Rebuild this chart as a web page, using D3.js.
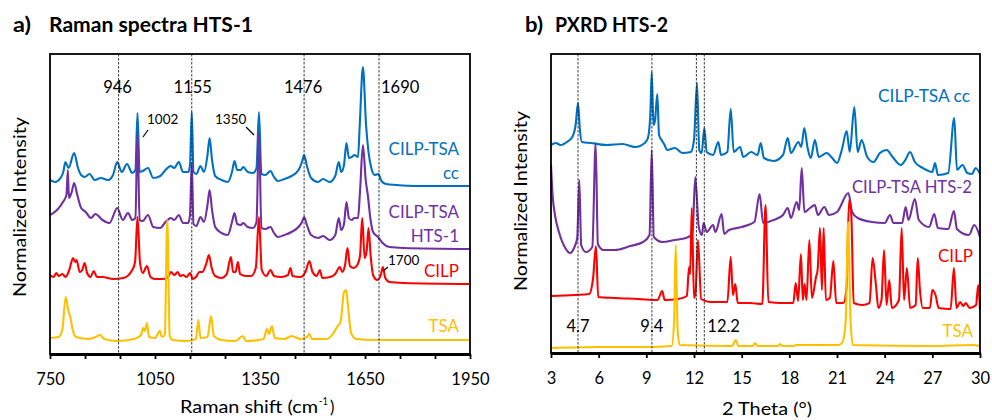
<!DOCTYPE html>
<html><head><meta charset="utf-8">
<script src="https://cdn.jsdelivr.net/npm/d3@7"></script>
<style>body{margin:0;background:#fff}svg text{font-family:Lato,"Open Sans",sans-serif}</style>
</head><body><svg id="c" width="992" height="420"></svg>
<script>
// ---------- DATA ----------
// Raman (x: cm-1, y: normalized intensity, arbitrary units)
const ramanCC = [[750,173],[765,171],[780,175],[788,181],[794,191],[803,185],[819,200],[830,185],[839,178],[849,176],[863,179],[878,173],[895,175],[916,173],[930,178],[942,191],[955,181],[970,189],[985,180],[994,183],[1000,240],[1006,181],[1015,182],[1030,185],[1045,175],[1065,177],[1080,183],[1095,187],[1105,185],[1118,191],[1130,181],[1145,181],[1150,188],[1155,241],[1160,181],[1168,179],[1180,187],[1190,181],[1200,198],[1206,215],[1213,193],[1222,177],[1240,173],[1258,171],[1270,181],[1277,192],[1285,183],[1295,183],[1302,186],[1315,181],[1330,180],[1340,185],[1347,241],[1354,179],[1365,178],[1380,182],[1390,176],[1401,172],[1420,174],[1440,177],[1460,183],[1470,191],[1476,198],[1484,187],[1496,175],[1516,171],[1530,174],[1549,171],[1565,177],[1575,191],[1582,181],[1590,188],[1597,210],[1604,195],[1612,196],[1620,198],[1630,196],[1635,228],[1644,286],[1653,228],[1660,201],[1668,185],[1678,178],[1688,179],[1697,172],[1710,169],[1740,168],[1800,167],[1950,167]];
const ramanHTS1 = [[750,138],[770,143],[787,151],[797,158],[801,183],[804,155],[812,161],[819,170],[828,158],[839,145],[852,141],[867,135],[880,139],[900,133],[920,130],[942,145],[958,133],[973,140],[985,133],[994,135],[1000,221],[1006,133],[1015,132],[1030,138],[1045,126],[1065,125],[1080,131],[1095,135],[1105,133],[1118,138],[1130,130],[1145,130],[1150,138],[1155,190],[1160,129],[1168,127],[1180,136],[1190,131],[1200,148],[1206,163],[1213,143],[1222,126],[1240,120],[1258,118],[1270,131],[1277,140],[1285,129],[1295,128],[1302,130],[1315,126],[1330,125],[1340,131],[1347,221],[1354,125],[1365,124],[1380,126],[1390,120],[1401,116],[1420,118],[1440,121],[1460,126],[1470,131],[1476,136],[1484,128],[1496,118],[1516,115],[1530,117],[1549,113],[1565,118],[1575,135],[1582,123],[1590,129],[1597,151],[1604,135],[1612,133],[1620,135],[1630,135],[1636,163],[1644,208],[1652,173],[1658,158],[1666,133],[1673,121],[1687,116],[1700,110],[1720,106],[1760,105],[1950,104]];
const ramanCILP = [[750,78],[760,76],[768,80],[775,77],[785,79],[795,76],[805,83],[816,95],[822,91],[826,93],[835,81],[842,83],[849,90],[856,80],[866,76],[875,82],[884,76],[900,76],[930,74],[960,75],[985,83],[993,91],[1000,136],[1007,91],[1015,80],[1027,87],[1037,76],[1050,74],[1070,74],[1085,75],[1096,81],[1105,78],[1115,81],[1122,77],[1130,78],[1140,76],[1150,80],[1158,74],[1167,76],[1177,81],[1185,81],[1197,90],[1204,98],[1212,85],[1222,77],[1240,75],[1255,79],[1262,90],[1267,96],[1273,81],[1280,81],[1287,91],[1293,79],[1310,77],[1325,77],[1338,85],[1347,136],[1355,83],[1368,77],[1380,83],[1390,77],[1410,76],[1430,78],[1437,85],[1443,77],[1465,76],[1480,81],[1491,92],[1500,81],[1512,77],[1521,83],[1528,75],[1550,76],[1565,79],[1578,86],[1585,81],[1593,88],[1600,105],[1607,87],[1618,85],[1628,88],[1636,98],[1642,135],[1649,95],[1655,103],[1660,125],[1666,98],[1673,78],[1685,73],[1695,78],[1701,86],[1708,75],[1720,71],[1760,70],[1950,69]];
const ramanTSA = [[750,15],[775,16],[785,23],[795,56],[802,43],[808,36],[815,23],[825,16],[860,14],[880,16],[893,18],[905,14],[940,12],[990,14],[1010,18],[1016,25],[1021,22],[1027,30],[1033,16],[1050,15],[1064,22],[1070,16],[1078,18],[1085,133],[1092,17],[1100,13],[1140,12],[1167,14],[1174,33],[1180,15],[1200,16],[1210,37],[1218,17],[1240,13],[1280,12],[1301,17],[1310,12],[1360,14],[1370,24],[1376,19],[1384,27],[1392,15],[1420,14],[1440,17],[1465,14],[1484,16],[1491,19],[1498,14],[1540,14],[1560,20],[1570,26],[1580,31],[1590,61],[1596,63],[1602,45],[1610,20],[1625,14],[1680,13],[1950,13]];
const ramanNames = ["CILP-TSA cc","CILP-TSA HTS-1","CILP","TSA"];
const ramanMarkers = [946,1155,1476,1690];
const ramanTicks = [750,850,950,1050,1150,1250,1350,1450,1550,1650,1750,1850,1950];
const ramanTickLabels = [750,1050,1350,1650,1950];
const ramanPeakNotes = ["1002","1350","1700"];

// PXRD (x: 2 theta in degrees, y: normalized intensity, arbitrary units)
const pxrdCC = [[3.0,207],[3.3,209],[3.6,207],[4.0,210],[4.34,215],[4.55,227],[4.70,249],[4.82,222],[4.95,210],[5.5,209],[6.5,207],[7.5,208],[8.3,205],[8.9,209],[9.1,214],[9.25,237],[9.34,280],[9.45,227],[9.55,232],[9.69,258],[9.8,217],[10.0,211],[10.15,207],[10.3,202],[10.8,204],[11.27,199],[11.8,200],[12.0,212],[12.19,269],[12.33,202],[12.48,199],[12.65,224],[12.8,200],[13.2,197],[13.53,210],[13.7,197],[14.1,200],[14.31,243],[14.5,200],[14.9,205],[15.1,195],[15.6,200],[16.0,197],[16.2,209],[16.4,194],[17.0,191],[17.6,197],[17.9,214],[18.1,199],[18.57,210],[18.75,205],[18.94,224],[19.15,204],[19.35,194],[19.61,212],[19.85,195],[20.35,199],[20.7,194],[21.0,189],[21.3,202],[21.61,221],[21.8,200],[22.09,245],[22.3,200],[22.55,212],[22.9,195],[23.3,190],[23.7,199],[24.13,202],[24.5,195],[25.0,187],[25.3,192],[25.6,200],[25.9,190],[26.4,184],[27.0,180],[27.17,189],[27.35,177],[28.0,179],[28.38,234],[28.55,182],[28.9,187],[29.2,179],[29.5,178],[29.72,184],[30.0,178]];
const pxrdHTS2 = [[3.0,187],[3.1,157],[3.25,137],[3.5,120],[3.9,104],[4.2,99],[4.45,104],[4.65,114],[4.78,172],[4.9,107],[5.2,100],[5.6,105],[5.81,209],[5.95,108],[6.3,102],[7.0,102],[8.0,106],[8.8,110],[9.2,117],[9.34,202],[9.47,115],[10.0,110],[10.8,112],[11.5,114],[11.9,118],[12.08,175],[12.3,125],[12.5,117],[12.6,129],[12.8,120],[13.2,127],[13.35,120],[13.74,138],[13.9,118],[14.2,122],[15.0,125],[15.8,130],[16.13,158],[16.35,129],[17.0,132],[17.6,137],[17.9,144],[18.1,134],[18.46,150],[18.62,142],[18.78,184],[18.95,140],[19.3,144],[19.6,147],[19.8,137],[20.2,145],[20.5,137],[21.0,140],[21.72,159],[21.95,140],[22.3,134],[23.2,130],[24.0,129],[24.34,137],[24.55,129],[25.1,129],[25.32,145],[25.5,132],[25.9,153],[26.15,132],[26.8,125],[27.12,138],[27.35,124],[28.0,123],[28.36,141],[28.55,123],[29.3,117],[29.64,127],[30.0,115]];
const pxrdCILP = [[3.0,56],[4.5,57],[5.4,58],[5.65,74],[5.83,106],[5.97,55],[7.0,54],[8.5,53],[9.7,52],[10.0,61],[10.15,52],[11.0,53],[11.55,56],[11.69,85],[11.76,78],[11.86,144],[12.0,54],[12.1,60],[12.25,112],[12.45,53],[13.0,50],[14.1,50],[14.31,95],[14.45,57],[14.6,68],[14.75,49],[15.5,49],[16.3,48],[16.5,147],[16.68,50],[17.5,49],[18.25,49],[18.4,69],[18.55,51],[18.73,98],[18.85,52],[18.96,68],[19.08,52],[19.26,112],[19.42,54],[19.68,75],[19.78,82],[19.93,124],[20.05,62],[20.16,124],[20.3,52],[20.55,54],[20.77,91],[20.95,49],[21.4,49],[21.6,64],[21.76,152],[21.9,137],[22.05,49],[22.6,47],[23.05,49],[23.24,94],[23.45,67],[23.6,44],[23.8,52],[23.96,102],[24.12,47],[24.29,72],[24.45,44],[24.9,52],[25.07,124],[25.22,52],[25.4,84],[25.6,44],[25.95,47],[26.08,94],[26.22,62],[26.4,44],[26.85,44],[27.0,62],[27.2,57],[27.4,44],[28.15,43],[28.36,84],[28.52,44],[28.75,50],[28.95,46],[29.1,49],[29.35,44],[29.75,47],[29.89,67],[30.0,42]];
const pxrdTSA = [[3.0,4],[6.0,5],[9.0,5],[10.6,6],[10.75,32],[10.85,107],[10.97,22],[11.1,7],[14.4,6],[14.62,12],[14.8,6],[15.7,6],[15.84,9],[16.0,6],[17.3,6],[17.4,8],[17.6,6],[18.3,6],[18.4,7],[21.1,7],[21.35,10],[21.55,32],[21.7,130],[21.85,32],[22.0,7],[27.0,6],[29.5,7],[30.0,6]];
const pxrdNames = ["CILP-TSA cc","CILP-TSA HTS-2","CILP","TSA"];
const pxrdMarkers = [4.7,9.35,12.15,12.65];
const pxrdMarkerLabels = ["4.7","9.4","12.2"];
const pxrdTicks = [3,6,9,12,15,18,21,24,27,30];

const colors = ["#0070C0","#7030A0","#FF0000","#FFC000"];

// ---------- DRAW ----------
const svg = d3.select("#c");

function panel(o){
  const x = d3.scaleLinear().domain(o.xDomain).range([o.x0,o.x1]);
  const y = d3.scaleLinear().domain([0,300]).range([o.y1,o.y1-300]);
  const g = svg.append("g");
  const line = d3.line().x(d=>x(d[0])).y(d=>y(d[1])).curve(d3.curveMonotoneX);
  o.series.forEach((s,i)=>{
    g.append("path").attr("d",line(s)).attr("fill","none")
      .attr("stroke",colors[i]).attr("stroke-width",2.1).attr("stroke-linejoin","round");
  });
  o.markers.forEach(m=>{
    g.append("line").attr("x1",x(m)).attr("x2",x(m)).attr("y1",o.y0).attr("y2",o.y1)
      .attr("stroke","#222").attr("stroke-width",0.9).attr("stroke-dasharray","2.5,1.5");
  });
  g.append("rect").attr("x",o.x0).attr("y",o.y0).attr("width",o.x1-o.x0).attr("height",o.axisY-o.y0)
    .attr("fill","none").attr("stroke","#000").attr("stroke-width",1.8);
  const ax = g.append("g").attr("transform",`translate(0,${o.axisY})`)
    .call(d3.axisBottom(x).tickValues(o.ticks).tickSize(5).tickSizeOuter(0)
      .tickFormat(d=>o.tickLabels.includes(d)?String(d):""));
  ax.select(".domain").attr("stroke-width",2.8);
  ax.selectAll(".tick line").attr("stroke-width",1.8);
  ax.selectAll(".tick text").attr("font-size",16.5).attr("font-family","Lato").attr("fill","#000").attr("dy",null).attr("y",31);
  return {x,y,g};
}

const A = panel({xDomain:[750,1950],x0:50,x1:470,y0:54,y1:353,axisY:354,series:[ramanCC,ramanHTS1,ramanCILP,ramanTSA],
  markers:ramanMarkers,ticks:ramanTicks,tickLabels:ramanTickLabels});
const B = panel({xDomain:[3,30],x0:551,x1:980,y0:54,y1:352,axisY:353,series:[pxrdCC,pxrdHTS2,pxrdCILP,pxrdTSA],
  markers:pxrdMarkers,ticks:pxrdTicks,tickLabels:pxrdTicks});

function txt(x,y,s,opt={}){
  const t = svg.append("text").attr("x",x).attr("y",y).text(s)
    .attr("font-size",opt.size||17).attr("fill",opt.color||"#000")
    .attr("text-anchor",opt.anchor||"start").attr("font-weight",opt.weight||"normal");
  if(opt.len) t.attr("textLength",opt.len).attr("lengthAdjust","spacingAndGlyphs");
  return t;
}

// titles
txt(13,32,"a)",{size:21,weight:"bold",len:18});
txt(49,32,"Raman spectra HTS-1",{size:21,weight:"bold",len:204});
txt(525,32,"b)",{size:21,weight:"bold",len:18});
txt(555,32,"PXRD HTS-2",{size:21,weight:"bold",len:113});

// axis titles
txt(180,413,"Raman shift (cm",{size:16.5,len:138});
txt(319,405,"-1",{size:11,len:9});
txt(330,413,")",{size:16.5});
txt(767,415,"2 Theta (°)",{size:16.5,anchor:"middle",len:90});
svg.append("text").attr("transform","translate(26,207) rotate(-90)").attr("text-anchor","middle")
  .attr("font-size",18).attr("textLength",180).attr("lengthAdjust","spacingAndGlyphs").text("Normalized Intensity");
svg.append("text").attr("transform","translate(527,201) rotate(-90)").attr("text-anchor","middle")
  .attr("font-size",18).attr("textLength",180).attr("lengthAdjust","spacingAndGlyphs").text("Normalized Intensity");

// Raman marker labels
txt(A.x(946)-1,93,String(ramanMarkers[0]),{size:16.5,anchor:"middle"});
txt(A.x(1155)+1,93,String(ramanMarkers[1]),{size:16.5,anchor:"middle"});
txt(A.x(1476)-1,93,String(ramanMarkers[2]),{size:16.5,anchor:"middle"});
txt(A.x(1690)+2,93,String(ramanMarkers[3]),{size:16.5});
// peak notes
txt(147,124,ramanPeakNotes[0],{size:13.5});
txt(215,124,ramanPeakNotes[1],{size:13.5});
txt(388,265,ramanPeakNotes[2],{size:13.5});
[[143,137,148,130],[246,127,254,135],[383,271,388,267]].forEach(l=>{
  svg.append("line").attr("x1",l[0]).attr("y1",l[1]).attr("x2",l[2]).attr("y2",l[3])
    .attr("stroke","#000").attr("stroke-width",1.2);
});
// Raman series labels
txt(459,155,"CILP-TSA",{color:colors[0],anchor:"end"});
txt(459,179,"cc",{color:colors[0],anchor:"end"});
txt(459,218,"CILP-TSA",{color:colors[1],anchor:"end"});
txt(459,242,"HTS-1",{color:colors[1],anchor:"end"});
txt(459,277,ramanNames[2],{color:colors[2],anchor:"end"});
txt(459,332,ramanNames[3],{color:colors[3],anchor:"end"});

// PXRD marker labels
txt(B.x(4.7),332,pxrdMarkerLabels[0],{size:16.5,anchor:"middle"});
txt(B.x(9.35),332,pxrdMarkerLabels[1],{size:16.5,anchor:"middle"});
txt(B.x(12.65)+3,332,pxrdMarkerLabels[2],{size:16.5});
// PXRD series labels
txt(970,102,pxrdNames[0],{color:colors[0],anchor:"end",len:92});
txt(972,193,pxrdNames[1],{color:colors[1],anchor:"end",len:120});
txt(973,262,pxrdNames[2],{color:colors[2],anchor:"end"});
txt(973,337,pxrdNames[3],{color:colors[3],anchor:"end"});
</script></body></html>
